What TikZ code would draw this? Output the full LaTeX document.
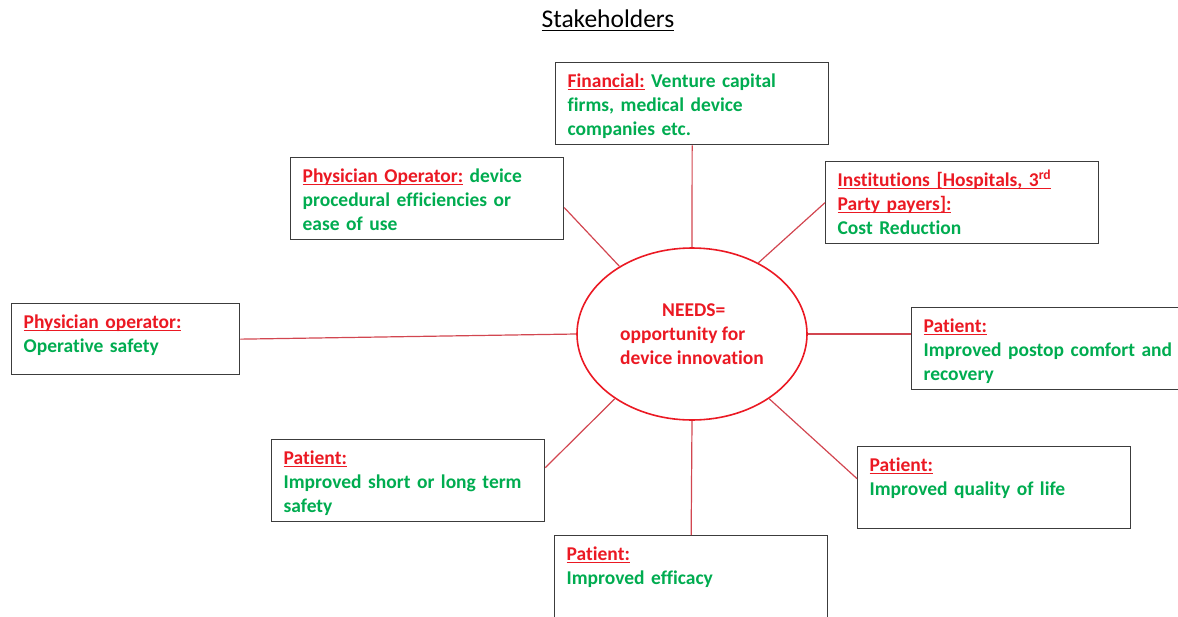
\documentclass[tikz,border=0pt]{standalone}
\usepackage{fontspec}
\setmainfont{Carlito}[Ligatures=NoCommon]
\usepackage{tikz}
\usetikzlibrary{shapes.geometric}
\definecolor{needred}{RGB}{235,25,35}
\definecolor{needgreen}{RGB}{0,172,80}
\definecolor{linkred}{RGB}{210,70,80}
\definecolor{boxgray}{RGB}{60,60,60}
\newcommand\stkul[2][2.6pt]{\setbox0\hbox{#2}\rlap{\rule[-#1]{\wd0}{1.3pt}}\box0}
\newcommand\who[1]{\textcolor{needred}{\stkul{#1}}}
\tikzstyle{stake}[50pt] = [draw=boxgray,line width=1.3pt,anchor=north west,align=left,text width=249pt,inner xsep=12pt,inner ysep=7pt,text height=18pt,text depth=#1,text=needgreen,font=\fontsize{19.5pt}{24pt}\selectfont\bfseries]
\tikzstyle{needs} = [draw=needred,line width=1.6pt,ellipse,minimum width=230pt,minimum height=172pt,inner sep=0pt,align=left,text=needred,font=\fontsize{19.5pt}{24pt}\selectfont\bfseries]
\tikzstyle{link} = [draw=linkred,line width=1.2pt]

\begin{document}
\begin{tikzpicture}[x=1pt,y=-1pt]
\useasboundingbox (0,0) rectangle (1178,616);

\node[font=\fontsize{25.5pt}{30pt}\selectfont,anchor=base] (title) at (608,27) {\stkul[4pt]{Stakeholders}};

\node[needs] (needs) at (692,334) {\hspace*{42pt}NEEDS=\\opportunity for\\device innovation};

\node[stake] (fin) at (555,62) {\who{Financial:} Venture capital\\firms, medical device\\companies etc.};
\node[stake] (physop) at (290,157) {\who{Physician Operator:} device\\procedural efficiencies or\\ease of use};
\node[stake] (inst) at (825,161) {\who{Institutions [Hospitals, 3\textsuperscript{rd}}\\\who{Party payers]:}\\Cost Reduction};
\node[stake=39pt,text width=204pt] (physl) at (11,303) {\who{Physician operator:}\\Operative safety};
\node[stake] (postop) at (911,307) {\who{Patient:}\\Improved postop comfort and\\recovery};
\node[stake] (safe) at (271,439) {\who{Patient:}\\Improved short or long term\\safety};
\node[stake] (qual) at (857,446) {\who{Patient:}\\Improved quality of life};
\node[stake] (eff) at (554,535) {\who{Patient:}\\Improved efficacy};

\draw[link] (needs.north) -- (fin.south);
\draw[link] (needs.137) -- ([yshift=-9pt]physop.east);
\draw[link] (needs.47) -- (inst.west);
\draw[link] (needs.west) -- (physl.east);
\draw[link] (needs.east) -- (needs.east -| postop.west);
\draw[link] (needs.220) -- ([yshift=13pt]safe.east);
\draw[link] (needs.320) -- ([yshift=9pt]qual.west);
\draw[link] (needs.south) -- (eff.north);

\end{tikzpicture}
\end{document}
